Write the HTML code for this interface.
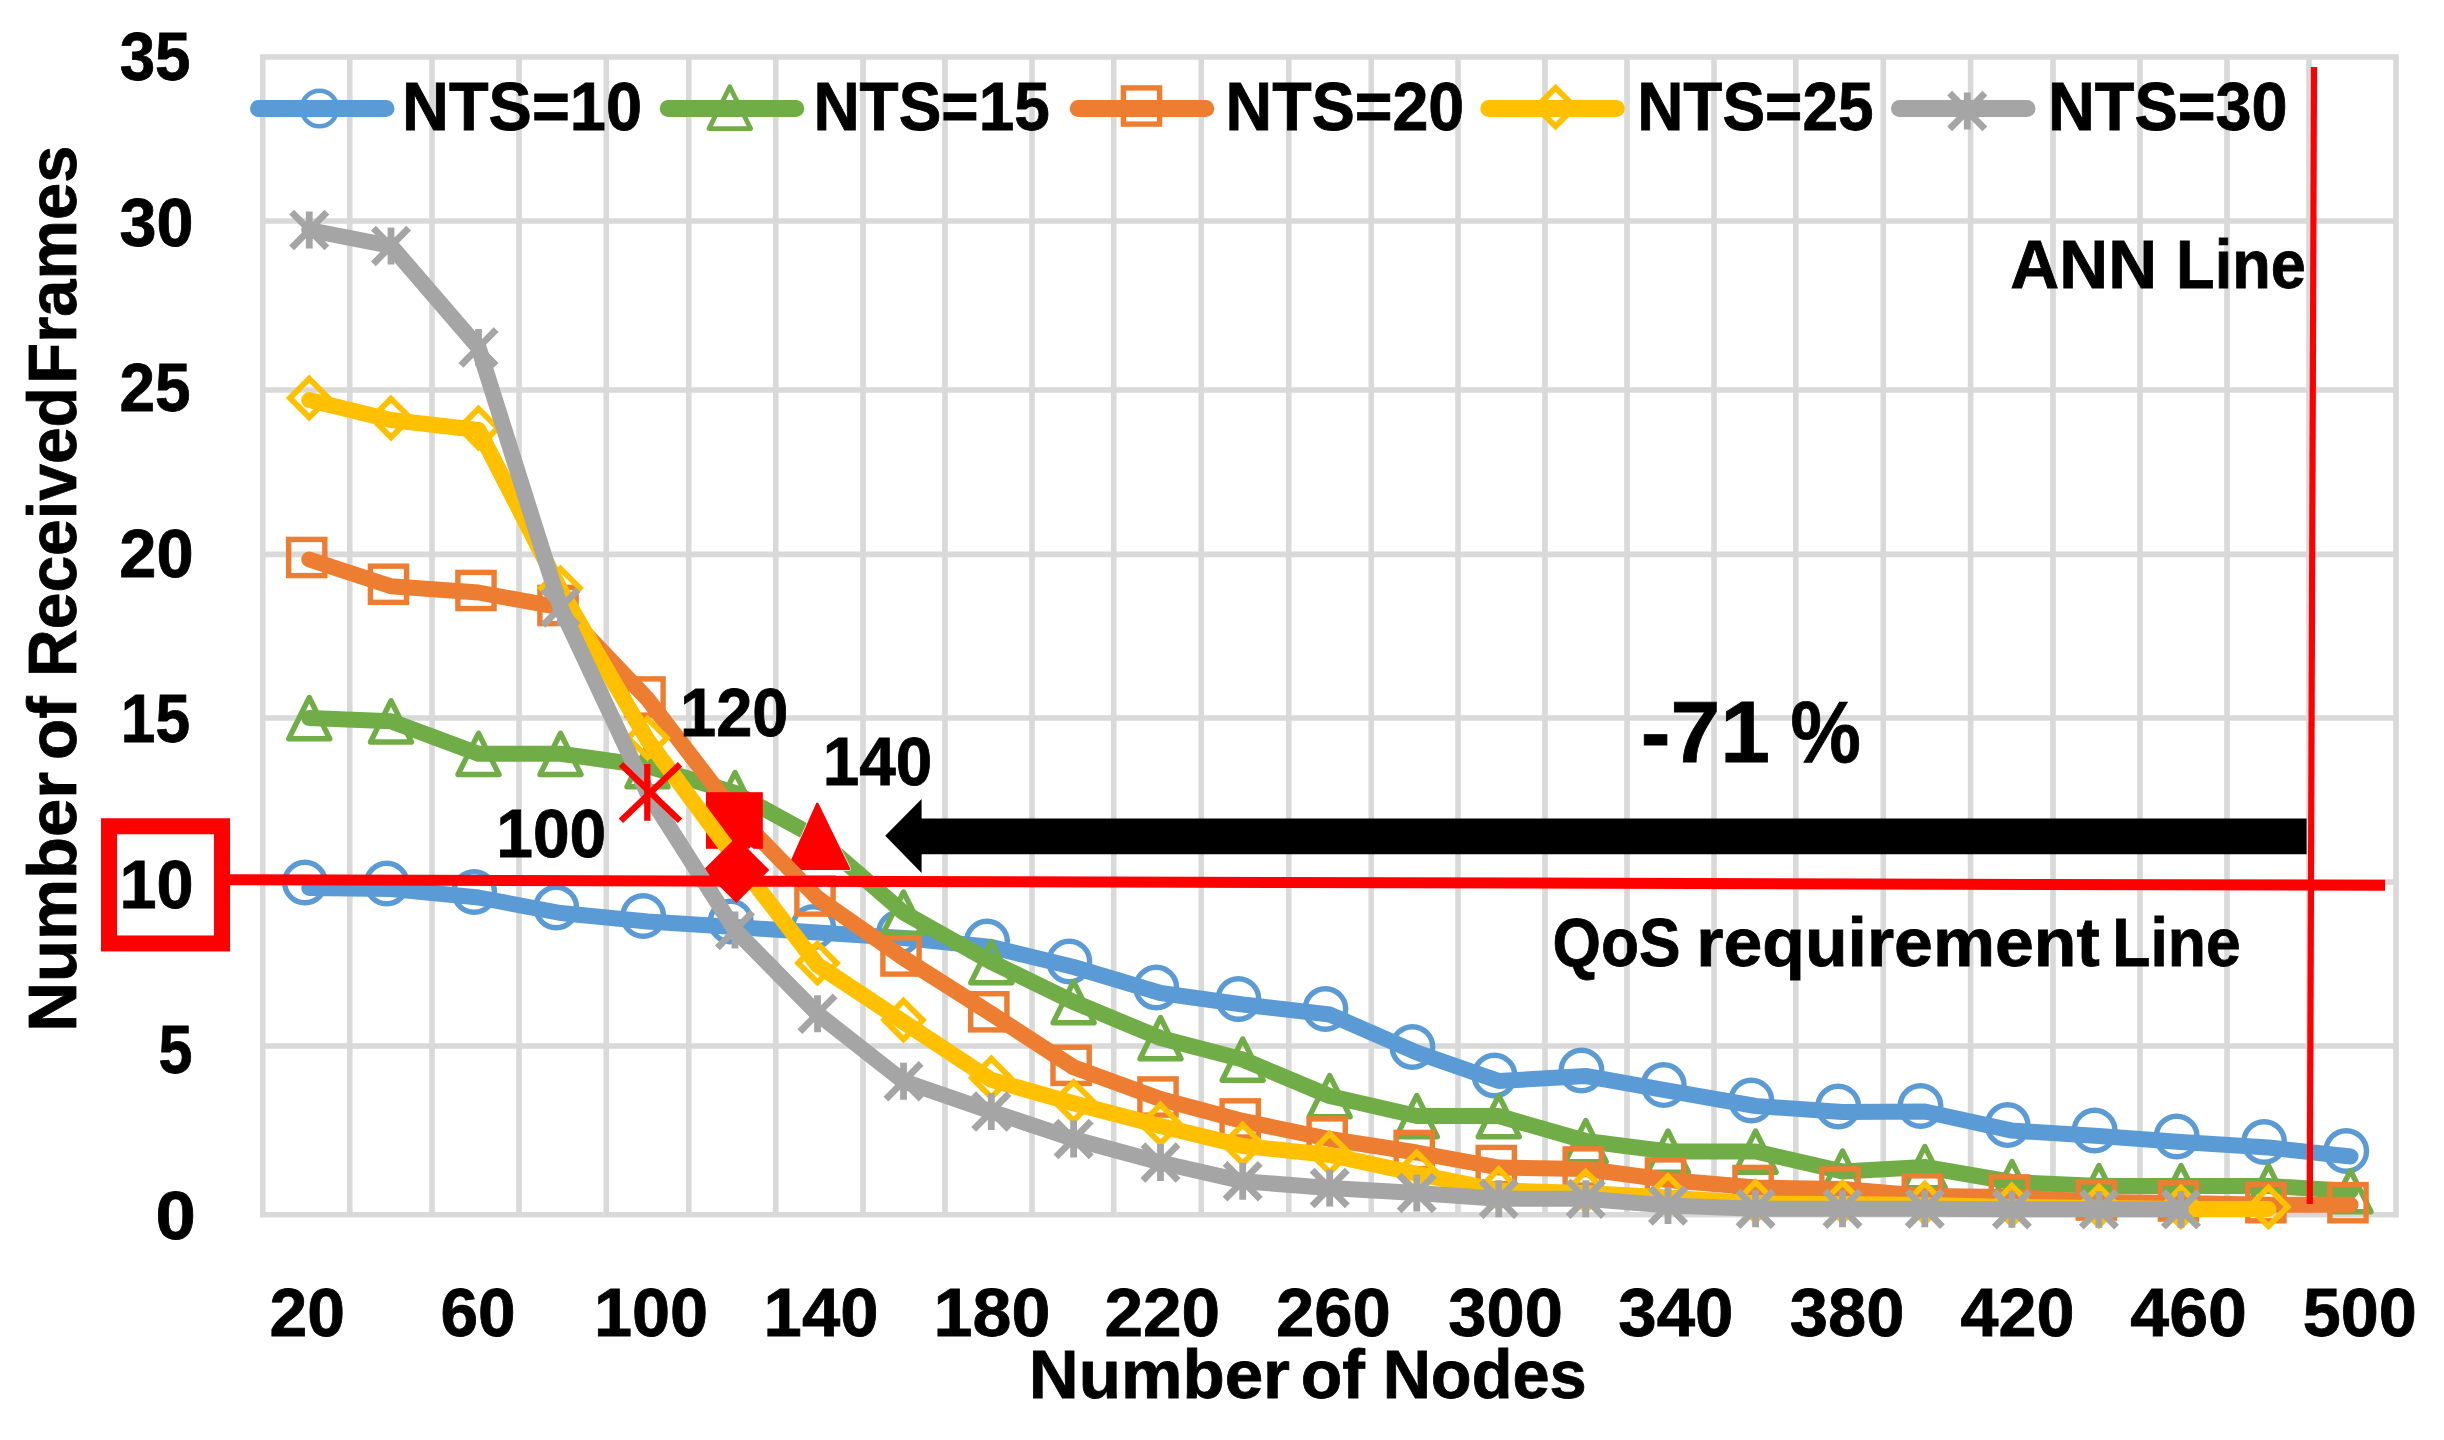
<!DOCTYPE html>
<html lang="en"><head><meta charset="utf-8"><title>Number of Received Frames vs Number of Nodes</title>
<style>html,body{margin:0;padding:0;background:#fff}svg{display:block}</style></head>
<body>
<svg width="2444" height="1440" viewBox="0 0 2444 1440" font-family="'Liberation Sans', sans-serif" font-weight="700" fill="#000" stroke="none">
<rect width="2444" height="1440" fill="#fff"/>
<path d="M262.75,54.2V1217.55M349.75,54.2V1217.55M432,54.2V1217.55M519,54.2V1217.55M606.25,54.2V1217.55M688.75,54.2V1217.55M775.75,54.2V1217.55M863,54.2V1217.55M945,54.2V1217.55M1032,54.2V1217.55M1113.75,54.2V1217.55M1201.25,54.2V1217.55M1288.75,54.2V1217.55M1371.25,54.2V1217.55M1458,54.2V1217.55M1545,54.2V1217.55M1627,54.2V1217.55M1714,54.2V1217.55M1795.8,54.2V1217.55M1883.3,54.2V1217.55M1970.6,54.2V1217.55M2053,54.2V1217.55M2140,54.2V1217.55M2227,54.2V1217.55M2309,54.2V1217.55M2396,54.2V1217.55M259.95,57H2398.8M259.95,221H2398.8M259.95,390H2398.8M259.95,554.4H2398.8M259.95,718H2398.8M259.95,882H2398.8M259.95,1046H2398.8M259.95,1214.75H2398.8" stroke="#D9D9D9" stroke-width="5.6" fill="none"/>
<polyline points="309.25,888.00 391.00,889.00 478.50,897.50 560.50,913.00 647.50,921.50 735.00,927.00 817.50,932.50 903.50,938.00 991.30,947.00 1073.60,967.00 1160.50,993.00 1242.70,1004.50 1329.70,1014.50 1416.75,1052.50 1498.75,1081.00 1585.75,1076.00 1668.00,1090.60 1755.60,1106.00 1842.50,1112.00 1924.80,1111.50 2011.90,1130.60 2098.90,1136.00 2181.00,1142.00 2268.40,1147.50 2350.50,1156.50" fill="none" stroke="#5B9BD5" stroke-width="16" stroke-linejoin="round" stroke-linecap="round"/>
<g><circle cx="304.95" cy="882.50" r="20.3" fill="none" stroke="#5B9BD5" stroke-width="5.4"/><circle cx="386.70" cy="883.50" r="20.3" fill="none" stroke="#5B9BD5" stroke-width="5.4"/><circle cx="474.20" cy="892.00" r="20.3" fill="none" stroke="#5B9BD5" stroke-width="5.4"/><circle cx="556.20" cy="907.50" r="20.3" fill="none" stroke="#5B9BD5" stroke-width="5.4"/><circle cx="643.20" cy="916.00" r="20.3" fill="none" stroke="#5B9BD5" stroke-width="5.4"/><circle cx="730.70" cy="921.50" r="20.3" fill="none" stroke="#5B9BD5" stroke-width="5.4"/><circle cx="813.20" cy="927.00" r="20.3" fill="none" stroke="#5B9BD5" stroke-width="5.4"/><circle cx="899.20" cy="932.50" r="20.3" fill="none" stroke="#5B9BD5" stroke-width="5.4"/><circle cx="987.00" cy="941.50" r="20.3" fill="none" stroke="#5B9BD5" stroke-width="5.4"/><circle cx="1069.30" cy="961.50" r="20.3" fill="none" stroke="#5B9BD5" stroke-width="5.4"/><circle cx="1156.20" cy="987.50" r="20.3" fill="none" stroke="#5B9BD5" stroke-width="5.4"/><circle cx="1238.40" cy="999.00" r="20.3" fill="none" stroke="#5B9BD5" stroke-width="5.4"/><circle cx="1325.40" cy="1009.00" r="20.3" fill="none" stroke="#5B9BD5" stroke-width="5.4"/><circle cx="1412.45" cy="1047.00" r="20.3" fill="none" stroke="#5B9BD5" stroke-width="5.4"/><circle cx="1494.45" cy="1075.50" r="20.3" fill="none" stroke="#5B9BD5" stroke-width="5.4"/><circle cx="1581.45" cy="1070.50" r="20.3" fill="none" stroke="#5B9BD5" stroke-width="5.4"/><circle cx="1663.70" cy="1085.10" r="20.3" fill="none" stroke="#5B9BD5" stroke-width="5.4"/><circle cx="1751.30" cy="1100.50" r="20.3" fill="none" stroke="#5B9BD5" stroke-width="5.4"/><circle cx="1838.20" cy="1106.50" r="20.3" fill="none" stroke="#5B9BD5" stroke-width="5.4"/><circle cx="1920.50" cy="1106.00" r="20.3" fill="none" stroke="#5B9BD5" stroke-width="5.4"/><circle cx="2007.60" cy="1125.10" r="20.3" fill="none" stroke="#5B9BD5" stroke-width="5.4"/><circle cx="2094.60" cy="1130.50" r="20.3" fill="none" stroke="#5B9BD5" stroke-width="5.4"/><circle cx="2176.70" cy="1136.50" r="20.3" fill="none" stroke="#5B9BD5" stroke-width="5.4"/><circle cx="2264.10" cy="1142.00" r="20.3" fill="none" stroke="#5B9BD5" stroke-width="5.4"/><circle cx="2346.20" cy="1151.00" r="20.3" fill="none" stroke="#5B9BD5" stroke-width="5.4"/></g>
<polyline points="309.25,718.00 391.00,721.25 478.50,753.75 560.50,753.75 647.50,766.00 735.00,793.00 817.50,838.00 903.50,912.50 991.30,962.00 1073.60,1002.00 1160.50,1038.00 1242.70,1059.50 1329.70,1096.00 1416.75,1116.00 1498.75,1116.00 1585.75,1141.00 1668.00,1151.50 1755.60,1151.50 1842.50,1171.50 1924.80,1167.00 2011.90,1182.00 2098.90,1186.00 2181.00,1186.00 2268.40,1186.00 2350.50,1191.00" fill="none" stroke="#70AD47" stroke-width="16" stroke-linejoin="round" stroke-linecap="round"/>
<g><polygon points="309.25,697.50 329.75,738.80 288.75,738.80" fill="none" stroke="#70AD47" stroke-width="5.4" stroke-linejoin="round"/><polygon points="391.00,700.75 411.50,742.05 370.50,742.05" fill="none" stroke="#70AD47" stroke-width="5.4" stroke-linejoin="round"/><polygon points="478.50,733.25 499.00,774.55 458.00,774.55" fill="none" stroke="#70AD47" stroke-width="5.4" stroke-linejoin="round"/><polygon points="560.50,733.25 581.00,774.55 540.00,774.55" fill="none" stroke="#70AD47" stroke-width="5.4" stroke-linejoin="round"/><polygon points="647.50,745.50 668.00,786.80 627.00,786.80" fill="none" stroke="#70AD47" stroke-width="5.4" stroke-linejoin="round"/><polygon points="735.00,772.50 755.50,813.80 714.50,813.80" fill="none" stroke="#70AD47" stroke-width="5.4" stroke-linejoin="round"/><polygon points="817.3,803.8 849,868.8 788.5,868.8" fill="#FF0000" stroke="#fff" stroke-width="4" stroke-linejoin="round" paint-order="stroke"/><polygon points="817.3,803.8 849,868.8 788.5,868.8" fill="#FF0000" stroke="#FF0000" stroke-width="2.5" stroke-linejoin="round"/><polygon points="903.50,892.00 924.00,933.30 883.00,933.30" fill="none" stroke="#70AD47" stroke-width="5.4" stroke-linejoin="round"/><polygon points="991.30,941.50 1011.80,982.80 970.80,982.80" fill="none" stroke="#70AD47" stroke-width="5.4" stroke-linejoin="round"/><polygon points="1073.60,981.50 1094.10,1022.80 1053.10,1022.80" fill="none" stroke="#70AD47" stroke-width="5.4" stroke-linejoin="round"/><polygon points="1160.50,1017.50 1181.00,1058.80 1140.00,1058.80" fill="none" stroke="#70AD47" stroke-width="5.4" stroke-linejoin="round"/><polygon points="1242.70,1039.00 1263.20,1080.30 1222.20,1080.30" fill="none" stroke="#70AD47" stroke-width="5.4" stroke-linejoin="round"/><polygon points="1329.70,1075.50 1350.20,1116.80 1309.20,1116.80" fill="none" stroke="#70AD47" stroke-width="5.4" stroke-linejoin="round"/><polygon points="1416.75,1095.50 1437.25,1136.80 1396.25,1136.80" fill="none" stroke="#70AD47" stroke-width="5.4" stroke-linejoin="round"/><polygon points="1498.75,1095.50 1519.25,1136.80 1478.25,1136.80" fill="none" stroke="#70AD47" stroke-width="5.4" stroke-linejoin="round"/><polygon points="1585.75,1120.50 1606.25,1161.80 1565.25,1161.80" fill="none" stroke="#70AD47" stroke-width="5.4" stroke-linejoin="round"/><polygon points="1668.00,1131.00 1688.50,1172.30 1647.50,1172.30" fill="none" stroke="#70AD47" stroke-width="5.4" stroke-linejoin="round"/><polygon points="1755.60,1131.00 1776.10,1172.30 1735.10,1172.30" fill="none" stroke="#70AD47" stroke-width="5.4" stroke-linejoin="round"/><polygon points="1842.50,1151.00 1863.00,1192.30 1822.00,1192.30" fill="none" stroke="#70AD47" stroke-width="5.4" stroke-linejoin="round"/><polygon points="1924.80,1146.50 1945.30,1187.80 1904.30,1187.80" fill="none" stroke="#70AD47" stroke-width="5.4" stroke-linejoin="round"/><polygon points="2011.90,1161.50 2032.40,1202.80 1991.40,1202.80" fill="none" stroke="#70AD47" stroke-width="5.4" stroke-linejoin="round"/><polygon points="2098.90,1165.50 2119.40,1206.80 2078.40,1206.80" fill="none" stroke="#70AD47" stroke-width="5.4" stroke-linejoin="round"/><polygon points="2181.00,1165.50 2201.50,1206.80 2160.50,1206.80" fill="none" stroke="#70AD47" stroke-width="5.4" stroke-linejoin="round"/><polygon points="2268.40,1165.50 2288.90,1206.80 2247.90,1206.80" fill="none" stroke="#70AD47" stroke-width="5.4" stroke-linejoin="round"/><polygon points="2350.50,1170.50 2371.00,1211.80 2330.00,1211.80" fill="none" stroke="#70AD47" stroke-width="5.4" stroke-linejoin="round"/></g>
<polyline points="309.25,559.50 391.00,586.25 478.50,592.50 560.50,607.50 647.50,699.00 735.00,813.00 817.50,898.00 903.50,958.00 991.30,1013.80 1073.60,1067.30 1160.50,1099.00 1242.70,1120.90 1329.70,1139.00 1416.75,1152.50 1498.75,1167.50 1585.75,1169.00 1668.00,1180.00 1755.60,1187.50 1842.50,1189.00 1924.80,1196.00 2011.90,1197.00 2098.90,1202.00 2181.00,1203.00 2268.40,1204.70 2350.50,1204.70" fill="none" stroke="#ED7D31" stroke-width="16" stroke-linejoin="round" stroke-linecap="round"/>
<g><rect x="288.65" y="539.40" width="36.2" height="36.2" fill="none" stroke="#ED7D31" stroke-width="5.4"/><rect x="370.40" y="566.15" width="36.2" height="36.2" fill="none" stroke="#ED7D31" stroke-width="5.4"/><rect x="457.90" y="572.40" width="36.2" height="36.2" fill="none" stroke="#ED7D31" stroke-width="5.4"/><rect x="539.90" y="587.40" width="36.2" height="36.2" fill="none" stroke="#ED7D31" stroke-width="5.4"/><rect x="626.90" y="678.90" width="36.2" height="36.2" fill="none" stroke="#ED7D31" stroke-width="5.4"/><rect x="706" y="792.2" width="56.8" height="56.6" fill="#FF0000"/><rect x="796.90" y="877.90" width="36.2" height="36.2" fill="none" stroke="#ED7D31" stroke-width="5.4"/><rect x="882.90" y="937.90" width="36.2" height="36.2" fill="none" stroke="#ED7D31" stroke-width="5.4"/><rect x="970.70" y="993.70" width="36.2" height="36.2" fill="none" stroke="#ED7D31" stroke-width="5.4"/><rect x="1053.00" y="1047.20" width="36.2" height="36.2" fill="none" stroke="#ED7D31" stroke-width="5.4"/><rect x="1139.90" y="1078.90" width="36.2" height="36.2" fill="none" stroke="#ED7D31" stroke-width="5.4"/><rect x="1222.10" y="1100.80" width="36.2" height="36.2" fill="none" stroke="#ED7D31" stroke-width="5.4"/><rect x="1309.10" y="1118.90" width="36.2" height="36.2" fill="none" stroke="#ED7D31" stroke-width="5.4"/><rect x="1396.15" y="1132.40" width="36.2" height="36.2" fill="none" stroke="#ED7D31" stroke-width="5.4"/><rect x="1478.15" y="1147.40" width="36.2" height="36.2" fill="none" stroke="#ED7D31" stroke-width="5.4"/><rect x="1565.15" y="1148.90" width="36.2" height="36.2" fill="none" stroke="#ED7D31" stroke-width="5.4"/><rect x="1647.40" y="1159.90" width="36.2" height="36.2" fill="none" stroke="#ED7D31" stroke-width="5.4"/><rect x="1735.00" y="1167.40" width="36.2" height="36.2" fill="none" stroke="#ED7D31" stroke-width="5.4"/><rect x="1821.90" y="1168.90" width="36.2" height="36.2" fill="none" stroke="#ED7D31" stroke-width="5.4"/><rect x="1904.20" y="1175.90" width="36.2" height="36.2" fill="none" stroke="#ED7D31" stroke-width="5.4"/><rect x="1991.30" y="1176.90" width="36.2" height="36.2" fill="none" stroke="#ED7D31" stroke-width="5.4"/><rect x="2078.30" y="1181.90" width="36.2" height="36.2" fill="none" stroke="#ED7D31" stroke-width="5.4"/><rect x="2160.40" y="1182.90" width="36.2" height="36.2" fill="none" stroke="#ED7D31" stroke-width="5.4"/><rect x="2247.80" y="1184.60" width="36.2" height="36.2" fill="none" stroke="#ED7D31" stroke-width="5.4"/><rect x="2329.90" y="1184.60" width="36.2" height="36.2" fill="none" stroke="#ED7D31" stroke-width="5.4"/></g>
<polyline points="309.25,400.00 391.00,420.00 478.50,430.00 560.50,590.00 647.50,740.00 735.00,858.00 817.50,965.00 903.50,1022.00 991.30,1079.90 1073.60,1103.30 1160.50,1126.00 1242.70,1146.00 1329.70,1155.00 1416.75,1173.75 1498.75,1190.50 1585.75,1193.00 1668.00,1197.50 1755.60,1203.50 1842.50,1204.00 1924.80,1205.00 2011.90,1207.00 2098.90,1208.00 2181.00,1208.90 2268.40,1208.90" fill="none" stroke="#FFC000" stroke-width="16" stroke-linejoin="round" stroke-linecap="round"/>
<g><polygon points="309.25,378.70 328.55,398.00 309.25,417.30 289.95,398.00" fill="none" stroke="#FFC000" stroke-width="5.8"/><polygon points="391.00,398.70 410.30,418.00 391.00,437.30 371.70,418.00" fill="none" stroke="#FFC000" stroke-width="5.8"/><polygon points="478.50,408.70 497.80,428.00 478.50,447.30 459.20,428.00" fill="none" stroke="#FFC000" stroke-width="5.8"/><polygon points="560.50,568.70 579.80,588.00 560.50,607.30 541.20,588.00" fill="none" stroke="#FFC000" stroke-width="5.8"/><polygon points="647.50,718.70 666.80,738.00 647.50,757.30 628.20,738.00" fill="none" stroke="#FFC000" stroke-width="5.8"/><path d="M749.5,848.2L772.5,871.2" stroke="#fff" stroke-width="4.5" fill="none"/><polygon points="736.3,837 769.3,870 736.3,903 703.3,870" fill="#FF0000"/><polygon points="817.50,943.70 836.80,963.00 817.50,982.30 798.20,963.00" fill="none" stroke="#FFC000" stroke-width="5.8"/><polygon points="903.50,1000.70 922.80,1020.00 903.50,1039.30 884.20,1020.00" fill="none" stroke="#FFC000" stroke-width="5.8"/><polygon points="991.30,1058.60 1010.60,1077.90 991.30,1097.20 972.00,1077.90" fill="none" stroke="#FFC000" stroke-width="5.8"/><polygon points="1073.60,1082.00 1092.90,1101.30 1073.60,1120.60 1054.30,1101.30" fill="none" stroke="#FFC000" stroke-width="5.8"/><polygon points="1160.50,1104.70 1179.80,1124.00 1160.50,1143.30 1141.20,1124.00" fill="none" stroke="#FFC000" stroke-width="5.8"/><polygon points="1242.70,1124.70 1262.00,1144.00 1242.70,1163.30 1223.40,1144.00" fill="none" stroke="#FFC000" stroke-width="5.8"/><polygon points="1329.70,1133.70 1349.00,1153.00 1329.70,1172.30 1310.40,1153.00" fill="none" stroke="#FFC000" stroke-width="5.8"/><polygon points="1416.75,1152.45 1436.05,1171.75 1416.75,1191.05 1397.45,1171.75" fill="none" stroke="#FFC000" stroke-width="5.8"/><polygon points="1498.75,1169.20 1518.05,1188.50 1498.75,1207.80 1479.45,1188.50" fill="none" stroke="#FFC000" stroke-width="5.8"/><polygon points="1585.75,1171.70 1605.05,1191.00 1585.75,1210.30 1566.45,1191.00" fill="none" stroke="#FFC000" stroke-width="5.8"/><polygon points="1668.00,1176.20 1687.30,1195.50 1668.00,1214.80 1648.70,1195.50" fill="none" stroke="#FFC000" stroke-width="5.8"/><polygon points="1755.60,1182.20 1774.90,1201.50 1755.60,1220.80 1736.30,1201.50" fill="none" stroke="#FFC000" stroke-width="5.8"/><polygon points="1842.50,1182.70 1861.80,1202.00 1842.50,1221.30 1823.20,1202.00" fill="none" stroke="#FFC000" stroke-width="5.8"/><polygon points="1924.80,1183.70 1944.10,1203.00 1924.80,1222.30 1905.50,1203.00" fill="none" stroke="#FFC000" stroke-width="5.8"/><polygon points="2011.90,1185.70 2031.20,1205.00 2011.90,1224.30 1992.60,1205.00" fill="none" stroke="#FFC000" stroke-width="5.8"/><polygon points="2098.90,1186.70 2118.20,1206.00 2098.90,1225.30 2079.60,1206.00" fill="none" stroke="#FFC000" stroke-width="5.8"/><polygon points="2181.00,1187.60 2200.30,1206.90 2181.00,1226.20 2161.70,1206.90" fill="none" stroke="#FFC000" stroke-width="5.8"/><polygon points="2268.40,1187.60 2287.70,1206.90 2268.40,1226.20 2249.10,1206.90" fill="none" stroke="#FFC000" stroke-width="5.8"/></g>
<polyline points="309.25,230.00 391.00,246.00 478.50,347.50 560.50,607.50 647.50,793.00 735.00,930.00 817.50,1013.75 903.50,1081.25 991.30,1111.50 1073.60,1139.00 1160.50,1162.50 1242.70,1181.25 1329.70,1188.00 1416.75,1193.00 1498.75,1198.75 1585.75,1198.75 1668.00,1205.50 1755.60,1208.75 1842.50,1208.75 1924.80,1208.75 2011.90,1209.30 2098.90,1209.30 2181.00,1209.30" fill="none" stroke="#A5A5A5" stroke-width="16" stroke-linejoin="round" stroke-linecap="round"/>
<g><path d="M309.25,211.60V248.40M291.65,212.20L326.85,247.80M326.85,212.20L291.65,247.80" fill="none" stroke="#A5A5A5" stroke-width="6.8"/><path d="M391.00,227.60V264.40M373.40,228.20L408.60,263.80M408.60,228.20L373.40,263.80" fill="none" stroke="#A5A5A5" stroke-width="6.8"/><path d="M478.50,329.10V365.90M460.90,329.70L496.10,365.30M496.10,329.70L460.90,365.30" fill="none" stroke="#A5A5A5" stroke-width="6.8"/><path d="M560.50,589.10V625.90M542.90,589.70L578.10,625.30M578.10,589.70L542.90,625.30" fill="none" stroke="#A5A5A5" stroke-width="6.8"/><path d="M647.3,763.9V820.7M620.9,764.3L680,820.7M680,764.3L620.9,820.7" stroke="#FF0000" stroke-width="6.3" fill="none"/><path d="M735.00,911.60V948.40M717.40,912.20L752.60,947.80M752.60,912.20L717.40,947.80" fill="none" stroke="#A5A5A5" stroke-width="6.8"/><path d="M817.50,995.35V1032.15M799.90,995.95L835.10,1031.55M835.10,995.95L799.90,1031.55" fill="none" stroke="#A5A5A5" stroke-width="6.8"/><path d="M903.50,1062.85V1099.65M885.90,1063.45L921.10,1099.05M921.10,1063.45L885.90,1099.05" fill="none" stroke="#A5A5A5" stroke-width="6.8"/><path d="M991.30,1093.10V1129.90M973.70,1093.70L1008.90,1129.30M1008.90,1093.70L973.70,1129.30" fill="none" stroke="#A5A5A5" stroke-width="6.8"/><path d="M1073.60,1120.60V1157.40M1056.00,1121.20L1091.20,1156.80M1091.20,1121.20L1056.00,1156.80" fill="none" stroke="#A5A5A5" stroke-width="6.8"/><path d="M1160.50,1144.10V1180.90M1142.90,1144.70L1178.10,1180.30M1178.10,1144.70L1142.90,1180.30" fill="none" stroke="#A5A5A5" stroke-width="6.8"/><path d="M1242.70,1162.85V1199.65M1225.10,1163.45L1260.30,1199.05M1260.30,1163.45L1225.10,1199.05" fill="none" stroke="#A5A5A5" stroke-width="6.8"/><path d="M1329.70,1169.60V1206.40M1312.10,1170.20L1347.30,1205.80M1347.30,1170.20L1312.10,1205.80" fill="none" stroke="#A5A5A5" stroke-width="6.8"/><path d="M1416.75,1174.60V1211.40M1399.15,1175.20L1434.35,1210.80M1434.35,1175.20L1399.15,1210.80" fill="none" stroke="#A5A5A5" stroke-width="6.8"/><path d="M1498.75,1180.35V1217.15M1481.15,1180.95L1516.35,1216.55M1516.35,1180.95L1481.15,1216.55" fill="none" stroke="#A5A5A5" stroke-width="6.8"/><path d="M1585.75,1180.35V1217.15M1568.15,1180.95L1603.35,1216.55M1603.35,1180.95L1568.15,1216.55" fill="none" stroke="#A5A5A5" stroke-width="6.8"/><path d="M1668.00,1187.10V1223.90M1650.40,1187.70L1685.60,1223.30M1685.60,1187.70L1650.40,1223.30" fill="none" stroke="#A5A5A5" stroke-width="6.8"/><path d="M1755.60,1190.35V1227.15M1738.00,1190.95L1773.20,1226.55M1773.20,1190.95L1738.00,1226.55" fill="none" stroke="#A5A5A5" stroke-width="6.8"/><path d="M1842.50,1190.35V1227.15M1824.90,1190.95L1860.10,1226.55M1860.10,1190.95L1824.90,1226.55" fill="none" stroke="#A5A5A5" stroke-width="6.8"/><path d="M1924.80,1190.35V1227.15M1907.20,1190.95L1942.40,1226.55M1942.40,1190.95L1907.20,1226.55" fill="none" stroke="#A5A5A5" stroke-width="6.8"/><path d="M2011.90,1190.90V1227.70M1994.30,1191.50L2029.50,1227.10M2029.50,1191.50L1994.30,1227.10" fill="none" stroke="#A5A5A5" stroke-width="6.8"/><path d="M2098.90,1190.90V1227.70M2081.30,1191.50L2116.50,1227.10M2116.50,1191.50L2081.30,1227.10" fill="none" stroke="#A5A5A5" stroke-width="6.8"/><path d="M2181.00,1190.90V1227.70M2163.40,1191.50L2198.60,1227.10M2198.60,1191.50L2163.40,1227.10" fill="none" stroke="#A5A5A5" stroke-width="6.8"/></g>
<line x1="258.5" y1="108.5" x2="386.0" y2="108.5" stroke="#5B9BD5" stroke-width="17" stroke-linecap="round"/>
<circle cx="319.45" cy="108.50" r="17.75" fill="none" stroke="#5B9BD5" stroke-width="4.5"/>
<text x="402.07" y="129.50" font-size="69" textLength="239.95" lengthAdjust="spacingAndGlyphs" stroke="#000" stroke-width="0.8">NTS=10</text>
<line x1="668.25" y1="108.5" x2="795.75" y2="108.5" stroke="#70AD47" stroke-width="17" stroke-linecap="round"/>
<polygon points="729.80,86.70 750.60,128.60 709.00,128.60" fill="none" stroke="#70AD47" stroke-width="4.8" stroke-linejoin="round"/>
<text x="813.39" y="129.50" font-size="69" textLength="236.42" lengthAdjust="spacingAndGlyphs" stroke="#000" stroke-width="0.8">NTS=15</text>
<line x1="1078.25" y1="108.5" x2="1205.75" y2="108.5" stroke="#ED7D31" stroke-width="17" stroke-linecap="round"/>
<rect x="1123.40" y="87.90" width="36.2" height="36.2" fill="none" stroke="#ED7D31" stroke-width="5.4"/>
<text x="1225.60" y="129.50" font-size="69" textLength="238.67" lengthAdjust="spacingAndGlyphs" stroke="#000" stroke-width="0.8">NTS=20</text>
<line x1="1488.8" y1="108.5" x2="1616.3" y2="108.5" stroke="#FFC000" stroke-width="17" stroke-linecap="round"/>
<polygon points="1555.55,87.80 1574.85,107.10 1555.55,126.40 1536.25,107.10" fill="none" stroke="#FFC000" stroke-width="5.8"/>
<text x="1637.13" y="129.50" font-size="69" textLength="236.48" lengthAdjust="spacingAndGlyphs" stroke="#000" stroke-width="0.8">NTS=25</text>
<line x1="1899.5" y1="108.5" x2="2027.0" y2="108.5" stroke="#A5A5A5" stroke-width="17" stroke-linecap="round"/>
<path d="M1967.25,92.60V129.40M1949.65,93.20L1984.85,128.80M1984.85,93.20L1949.65,128.80" fill="none" stroke="#A5A5A5" stroke-width="6.8"/>
<text x="2048.08" y="129.50" font-size="69" textLength="239.49" lengthAdjust="spacingAndGlyphs" stroke="#000" stroke-width="0.8">NTS=30</text>
<g stroke="#000" stroke-width="0.8">
<text x="119.67" y="80.00" font-size="69" textLength="70.89" lengthAdjust="spacingAndGlyphs" >35</text>
<text x="119.61" y="245.50" font-size="69" textLength="73.99" lengthAdjust="spacingAndGlyphs" >30</text>
<text x="119.43" y="411.00" font-size="69" textLength="71.14" lengthAdjust="spacingAndGlyphs" >25</text>
<text x="119.33" y="576.50" font-size="69" textLength="74.28" lengthAdjust="spacingAndGlyphs" >20</text>
<text x="120.77" y="742.00" font-size="69" textLength="69.25" lengthAdjust="spacingAndGlyphs" >15</text>
<text x="119.50" y="907.50" font-size="69" textLength="74.10" lengthAdjust="spacingAndGlyphs" >10</text>
<text x="158.54" y="1073.00" font-size="69" textLength="33.97" lengthAdjust="spacingAndGlyphs" >5</text>
<text x="155.56" y="1238.50" font-size="69" textLength="40.31" lengthAdjust="spacingAndGlyphs" >0</text>
<text x="269.54" y="1335.90" font-size="69" textLength="75.46" lengthAdjust="spacingAndGlyphs" >20</text>
<text x="440.45" y="1335.90" font-size="69" textLength="75.14" lengthAdjust="spacingAndGlyphs" >60</text>
<text x="593.93" y="1335.90" font-size="69" textLength="114.27" lengthAdjust="spacingAndGlyphs" >100</text>
<text x="763.61" y="1335.90" font-size="69" textLength="114.81" lengthAdjust="spacingAndGlyphs" >140</text>
<text x="933.64" y="1335.90" font-size="69" textLength="116.72" lengthAdjust="spacingAndGlyphs" >180</text>
<text x="1104.39" y="1335.90" font-size="69" textLength="115.65" lengthAdjust="spacingAndGlyphs" >220</text>
<text x="1276.00" y="1335.90" font-size="69" textLength="114.92" lengthAdjust="spacingAndGlyphs" >260</text>
<text x="1448.31" y="1335.90" font-size="69" textLength="114.61" lengthAdjust="spacingAndGlyphs" >300</text>
<text x="1618.30" y="1335.90" font-size="69" textLength="115.12" lengthAdjust="spacingAndGlyphs" >340</text>
<text x="1789.81" y="1335.90" font-size="69" textLength="114.61" lengthAdjust="spacingAndGlyphs" >380</text>
<text x="1960.41" y="1335.90" font-size="69" textLength="113.99" lengthAdjust="spacingAndGlyphs" >420</text>
<text x="2130.39" y="1335.90" font-size="69" textLength="116.57" lengthAdjust="spacingAndGlyphs" >460</text>
<text x="2302.82" y="1335.90" font-size="69" textLength="114.08" lengthAdjust="spacingAndGlyphs" >500</text>
<text y="1398.40" font-size="69"><tspan x="1028.79" textLength="261.22" lengthAdjust="spacingAndGlyphs">Number</tspan> <tspan x="1300.64" textLength="64.19" lengthAdjust="spacingAndGlyphs">of</tspan> <tspan x="1382.65" textLength="204.03" lengthAdjust="spacingAndGlyphs">Nodes</tspan></text>
<g transform="translate(75.6,0) rotate(-90)"><text y="0.00" font-size="69"><tspan x="-1031.79" textLength="259.89" lengthAdjust="spacingAndGlyphs">Number</tspan> <tspan x="-760.04" textLength="63.77" lengthAdjust="spacingAndGlyphs">of</tspan> <tspan x="-677.00" textLength="289.93" lengthAdjust="spacingAndGlyphs">Received</tspan> <tspan x="-383.66" textLength="238.05" lengthAdjust="spacingAndGlyphs">Frames</tspan></text></g>
<text y="287.80" font-size="69"><tspan x="2010.33" textLength="146.77" lengthAdjust="spacingAndGlyphs">ANN</tspan> <tspan x="2176.09" textLength="129.75" lengthAdjust="spacingAndGlyphs">Line</tspan></text>
<text y="761.50" font-size="88"><tspan x="1640.85" textLength="129.18" lengthAdjust="spacingAndGlyphs">-71</tspan> <tspan x="1790.52" textLength="70.39" lengthAdjust="spacingAndGlyphs">%</tspan></text>
<text y="965.60" font-size="69"><tspan x="1552.57" textLength="128.00" lengthAdjust="spacingAndGlyphs">QoS</tspan> <tspan x="1696.35" textLength="403.34" lengthAdjust="spacingAndGlyphs">requirement</tspan> <tspan x="2112.24" textLength="128.38" lengthAdjust="spacingAndGlyphs">Line</tspan></text>
<text x="496.29" y="856.60" font-size="69" textLength="110.01" lengthAdjust="spacingAndGlyphs" >100</text>
<text x="680.10" y="736.20" font-size="69" textLength="108.41" lengthAdjust="spacingAndGlyphs" >120</text>
<text x="822.81" y="785.40" font-size="69" textLength="109.48" lengthAdjust="spacingAndGlyphs" >140</text>
</g>
<polygon points="885.2,835.8 921.6,799 921.6,818.4 2306.6,818.4 2306.6,854.25 921.6,854.25 921.6,872.9" fill="#000"/>
<line x1="230" y1="879.8" x2="2385" y2="885.3" stroke="#FF0000" stroke-width="11"/>
<line x1="2314" y1="67" x2="2309.8" y2="1204" stroke="#FF0000" stroke-width="6.2"/>
<rect x="109" y="826.25" width="113" height="117.2" fill="none" stroke="#FF0000" stroke-width="16"/>
</svg>
</body></html>
